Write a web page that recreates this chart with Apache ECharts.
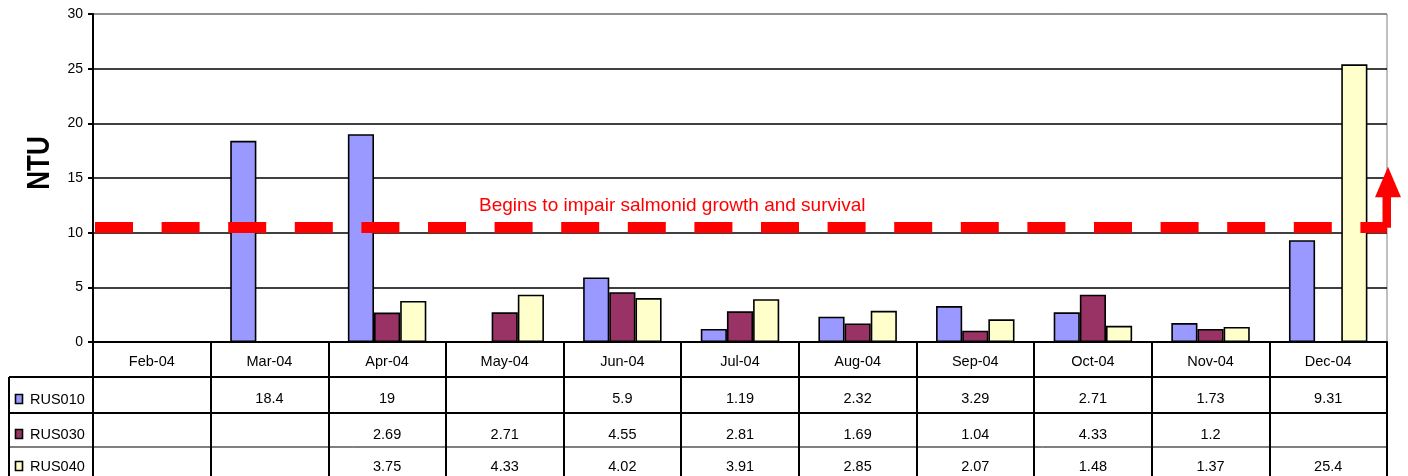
<!DOCTYPE html>
<html>
<head>
<meta charset="utf-8">
<script src="https://cdn.jsdelivr.net/npm/echarts@6/dist/echarts.min.js"></script>
<style>html,body{margin:0;padding:0;background:#fff;}#c{width:1408px;height:476px;}</style>
</head>
<body>
<div id="c"></div>
<script>
// ---- data ----
const categories = ['Feb-04','Mar-04','Apr-04','May-04','Jun-04','Jul-04','Aug-04','Sep-04','Oct-04','Nov-04','Dec-04'];
const seriesNames = ['RUS010','RUS030','RUS040'];
const rus010 = [null, 18.4, 19, null, 5.9, 1.19, 2.32, 3.29, 2.71, 1.73, 9.31];
const rus030 = [null, null, 2.69, 2.71, 4.55, 2.81, 1.69, 1.04, 4.33, 1.2, null];
const rus040 = [null, null, 3.75, 4.33, 4.02, 3.91, 2.85, 2.07, 1.48, 1.37, 25.4];
const yMin = 0, yMax = 30, yStep = 5;
const yTitle = 'NTU';
const threshold = 10.45;
const thresholdLabel = 'Begins to impair salmonid growth and survival';

// ---- styling ----
const FONT = 'Liberation Sans, Arial, sans-serif';
const colors = ['#9999FF', '#993366', '#FFFFCC'];
const G = {left: 93, right: 21, top: 14, bottom: 134};
const W = 1408, H = 476;
const gR = W - G.right, gB = H - G.bottom;

const chart = echarts.init(document.getElementById('c'), null, {renderer: 'canvas', width: W, height: H});
const fmt = v => (v === null || v === undefined) ? '' : String(v);
const allData = [rus010, rus030, rus040];

function tableAxis(idx, offset, tickLen, margin) {
  return {
    type: 'category', data: categories, position: 'bottom', offset: offset,
    axisLine: {show: false},
    axisTick: {show: true, length: tickLen, lineStyle: {color: '#000', width: 2}},
    axisLabel: {interval: 0, margin: margin, fontFamily: FONT, fontSize: 14.5, color: '#000',
      formatter: (v, i) => fmt(allData[idx][i])},
    splitLine: {show: false}
  };
}

const option = {
  animation: false,
  backgroundColor: '#fff',
  grid: {left: G.left, right: G.right, top: G.top, bottom: G.bottom, show: true,
         borderColor: '#808080', borderWidth: 1, backgroundColor: 'transparent'},
  xAxis: [
    {
      type: 'category', data: categories, position: 'bottom',
      axisLine: {show: true, lineStyle: {color: '#000', width: 2}},
      axisTick: {show: true, length: 35, lineStyle: {color: '#000', width: 2}},
      axisLabel: {interval: 0, margin: 12, fontFamily: FONT, fontSize: 14.5, color: '#000'},
      splitLine: {show: false}
    },
    tableAxis(0, 35, 36, 14),
    tableAxis(1, 71, 34, 14),
    tableAxis(2, 105, 40, 12)
  ],
  yAxis: {
    type: 'value', min: yMin, max: yMax, interval: yStep,
    axisLine: {show: true, lineStyle: {color: '#000', width: 2}},
    axisTick: {show: true, length: 5, lineStyle: {color: '#000', width: 2}},
    axisLabel: {margin: 10, fontFamily: FONT, fontSize: 14, color: '#000'},
    splitLine: {show: true, lineStyle: {color: ['#000','#000','#000','#000','#000','#000','#808080'], width: 1.5}}
  },
  series: allData.map((d, i) => ({
    name: seriesNames[i], type: 'bar', xAxisIndex: 0, data: d,
    barGap: '0%', barCategoryGap: '33.3%',
    itemStyle: {color: colors[i], borderColor: '#000', borderWidth: 1.6},
    markLine: i === 2 ? {
      silent: true, symbol: 'none', z: 10,
      label: {show: false},
      lineStyle: {color: '#FF0000', width: 11, type: [38, 28.6], dashOffset: 64.6, opacity: 1},
      data: [{yAxis: threshold}]
    } : undefined
  }))
};
chart.setOption(option);

const yLine = chart.convertToPixel({yAxisIndex: 0}, threshold);
const rowLines = [342 + 35, 342 + 71, 342 + 105];
const rowCenters = [399.5, 434.5, 466.5];
const graphics = [];
// table horizontal lines
rowLines.forEach((y, i) => {
  graphics.push({type: 'line', z: 20, shape: {x1: 9, y1: y, x2: gR, y2: y},
    style: {stroke: '#000', lineWidth: i === 2 ? 1 : 2}});
});
// table left border
graphics.push({type: 'line', z: 20, shape: {x1: 9, y1: rowLines[0], x2: 9, y2: H},
  style: {stroke: '#000', lineWidth: 2}});
// legend keys
seriesNames.forEach((n, i) => {
  graphics.push({type: 'rect', z: 20, shape: {x: 15.5, y: rowCenters[i] - 5, width: 7, height: 9},
    style: {fill: colors[i], stroke: '#000', lineWidth: 1.6}});
  graphics.push({type: 'text', z: 20, x: 30, y: rowCenters[i],
    style: {text: n, font: '14.5px ' + FONT, fill: '#000', align: 'left', verticalAlign: 'middle'}});
});
// y-axis title
graphics.push({type: 'text', z: 20, x: 40, y: 163, rotation: Math.PI / 2, scaleY: 1.2,
  style: {text: yTitle, font: 'bold 26px ' + FONT, fill: '#000', align: 'center', verticalAlign: 'middle'}});
// threshold label
graphics.push({type: 'text', z: 20, x: 479, y: yLine - 21.5,
  style: {text: thresholdLabel, font: '19px ' + FONT, fill: '#FF0000', align: 'left', verticalAlign: 'middle'}});
// arrow at right end
graphics.push({type: 'rect', z: 20, shape: {x: 1382.5, y: yLine - 31, width: 8.5, height: 31},
  style: {fill: '#FF0000'}});
graphics.push({type: 'polygon', z: 20, shape: {points: [[1375, yLine - 30.5], [1401, yLine - 30.5], [1388, yLine - 61]]},
  style: {fill: '#FF0000'}});
chart.setOption({graphic: graphics});
</script>
</body>
</html>
